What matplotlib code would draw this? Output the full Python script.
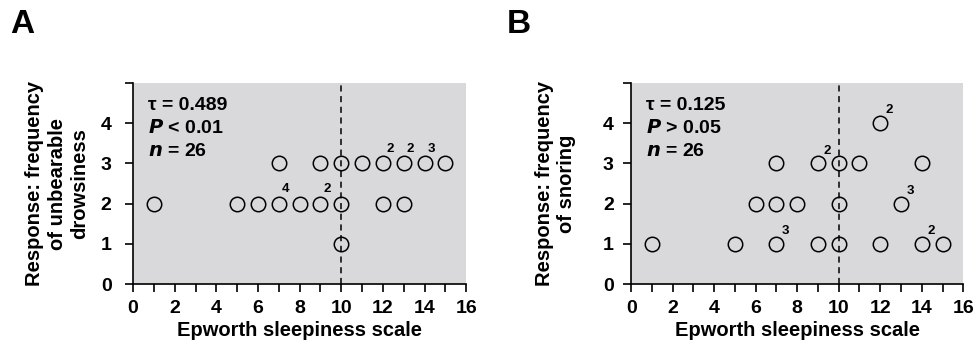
import numpy as np
import matplotlib
matplotlib.use("Agg")
import matplotlib.pyplot as plt

plt.rcParams['font.family'] = ['Liberation Sans', 'DejaVu Sans']
plt.rcParams['font.weight'] = 'bold'

# panel A: frequency of unbearable drowsiness
a_x = [7, 9, 10, 11, 12, 13, 14, 15, 1, 5, 6, 7, 8, 9, 10, 12, 13, 10]
a_y = [3, 3, 3, 3, 3, 3, 3, 3, 2, 2, 2, 2, 2, 2, 2, 2, 2, 1]
a_n = [1, 1, 1, 1, 2, 2, 3, 1, 1, 1, 1, 4, 1, 2, 1, 1, 1, 1]
a_stats = ["\u03c4 = 0.489", "$\\bfit{P}$ < 0.01", "$\\bfit{n}$ = 26"]
a_ylabel = "Response: frequency\nof unbearable\ndrowsiness"

# panel B: frequency of snoring
b_x = [12, 7, 9, 10, 11, 14, 6, 7, 8, 10, 13, 1, 5, 7, 9, 10, 12, 14, 15]
b_y = [4, 3, 3, 3, 3, 3, 2, 2, 2, 2, 2, 1, 1, 1, 1, 1, 1, 1, 1]
b_n = [2, 1, 2, 1, 1, 1, 1, 1, 1, 1, 3, 1, 1, 3, 1, 1, 1, 2, 1]
b_stats = ["\u03c4 = 0.125", "$\\bfit{P}$ > 0.05", "$\\bfit{n}$ = 26"]
b_ylabel = "Response: frequency\nof snoring"

xlabel = "Epworth sleepiness scale"
cutoff = 10


def draw_panel(ax, xs, ys, ns, stats, ylabel, lab_dx, lab_dy, ypad):
    ax.set_facecolor('#d9d9db')
    ax.axvline(cutoff, color='black', linestyle=(0, (4, 3)), lw=1.1, zorder=1)
    ax.plot(xs, ys, 'o', ms=10.4, mfc='none', mec='black', mew=1.1,
            zorder=3, clip_on=False)
    for x, y, n in zip(xs, ys, ns):
        if n > 1:
            ax.text(x + lab_dx, y + lab_dy, str(n), fontsize=9.5,
                    fontweight='bold', ha='center', va='center')
    for i, s in enumerate(stats):
        ax.text(0.045, 0.89 - i * 0.115, s, transform=ax.transAxes,
                fontsize=14, fontweight='bold', va='center', ha='left')
    ax.set_xlim(0, 16)
    ax.set_ylim(0, 5)
    ax.set_xticks(range(0, 17, 2))
    ax.set_xticks(range(1, 16, 2), minor=True)
    ax.set_yticks(range(0, 6))
    ax.set_yticklabels(['0', '1', '2', '3', '4', ''])
    ax.tick_params(axis='both', which='both', direction='out', length=5.5,
                   width=1.2, labelsize=14)
    ax.tick_params(axis='x', pad=6)
    ax.tick_params(axis='y', pad=ypad)
    for lbl in ax.get_xticklabels() + ax.get_yticklabels():
        lbl.set_fontweight('bold')
    ax.spines['top'].set_visible(False)
    ax.spines['right'].set_visible(False)
    ax.spines['left'].set_linewidth(1.2)
    ax.spines['bottom'].set_linewidth(1.2)
    ax.set_xlabel(xlabel, fontsize=14.5, fontweight='bold', labelpad=3)
    ax.set_ylabel(ylabel, fontsize=14.5, fontweight='bold', va='center',
                  linespacing=1.22)
    ax.yaxis.set_label_coords(-0.228, 0.5)


fig = plt.figure(figsize=(9.74, 3.43), dpi=100)
ax1 = fig.add_axes([0.1366, 0.172, 0.342, 0.586])
ax2 = fig.add_axes([0.648, 0.172, 0.341, 0.586])

draw_panel(ax1, a_x, a_y, a_n, a_stats, a_ylabel, 0.33, 0.37, 10)
draw_panel(ax2, b_x, b_y, b_n, b_stats, b_ylabel, 0.45, 0.32, 7)

fig.text(0.010, 0.975, "A", fontsize=24, fontweight='bold', va='top')
fig.text(0.520, 0.975, "B", fontsize=24, fontweight='bold', va='top')

fig.savefig("out.png", dpi=100)
